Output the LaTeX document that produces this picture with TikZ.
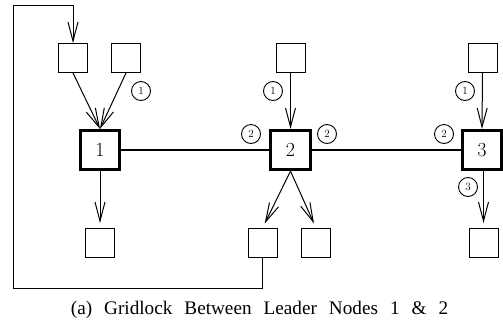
\documentclass[tikz,border=0pt]{standalone}
\usepackage{fontspec}
\newfontfamily\capfont{Liberation Serif}
\usetikzlibrary{arrows.meta}
\begin{document}
\begin{tikzpicture}[x=1pt,y=-1pt,
  leader/.style={draw,line width=2.7pt,minimum width=39.5pt,minimum height=39.5pt,inner sep=0pt,font=\fontsize{20}{20}\selectfont},
  small/.style={draw,line width=1pt,minimum width=29pt,minimum height=29pt,inner sep=0pt},
  tag/.style={draw,circle,line width=0.9pt,minimum size=19pt,inner sep=0pt,font=\fontsize{11}{11}\selectfont},
  tip/.style={-{Straight Barb[length=19pt,width=10pt,line width=1pt]}},
  arr/.style={line width=1pt,tip},
  link/.style={line width=2.6pt},
  loop/.style={line width=1pt}]
\useasboundingbox (0,0) rectangle (503,325);
% leaders
\node[leader] (L1) at (100,150) {1};
\node[leader] (L2) at (290.5,150) {2};
\node[leader] (L3) at (482,150) {3};
% top boxes
\node[small] (T1a) at (73,58) {};
\node[small] (T1b) at (126,58) {};
\node[small] (T2) at (290.5,58) {};
\node[small] (T3) at (482.5,58) {};
% bottom boxes
\node[small] (B1) at (100,243) {};
\node[small] (B2a) at (262.5,243) {};
\node[small] (B2b) at (316,243) {};
\node[small] (B3) at (484,243) {};
% links
\draw[link] (L1) -- (L2);
\draw[link] (L2) -- (L3);
% arrows in
\draw[arr] (T1a.south) -- (L1.north);
\draw[arr] (T1b.south) -- (L1.north);
\draw[arr] (T2.south) -- (L2.north);
\draw[arr] (T3.south) -- (L3.north);
% arrows out
\draw[arr,shorten >=5pt] (L1.south) -- (B1.north);
\draw[arr,shorten >=5pt] (L2.south) -- (B2a.north);
\draw[arr,shorten >=5pt] (L2.south) -- (B2b.north);
\draw[arr,shorten >=5pt] (L3.south -| 483.5,0) -- (B3.north -| 483.5,0);
% loop
\coordinate (c1) at (13,288);
\coordinate (c2) at (13,5);
\draw[loop,tip] (B2a.south) |- (c1) -- (c2) -| (T1a.north);
% tags
\node[tag] (a1) at (141,91) {1};
\node[tag] (a2) at (273,91) {1};
\node[tag] (a3) at (465,91) {1};
\node[tag] (b1) at (251,134) {2};
\node[tag] (b2) at (327,134) {2};
\node[tag] (b3) at (444,134) {2};
\node[tag] (c3) at (468,187) {3};
% caption
\node[anchor=base,inner sep=0pt] (cap) at (259.5,314) {\capfont\fontsize{19.2}{20}\selectfont\spaceskip=12pt (a) Gridlock Between Leader Nodes 1 \& 2};
\end{tikzpicture}
\end{document}
